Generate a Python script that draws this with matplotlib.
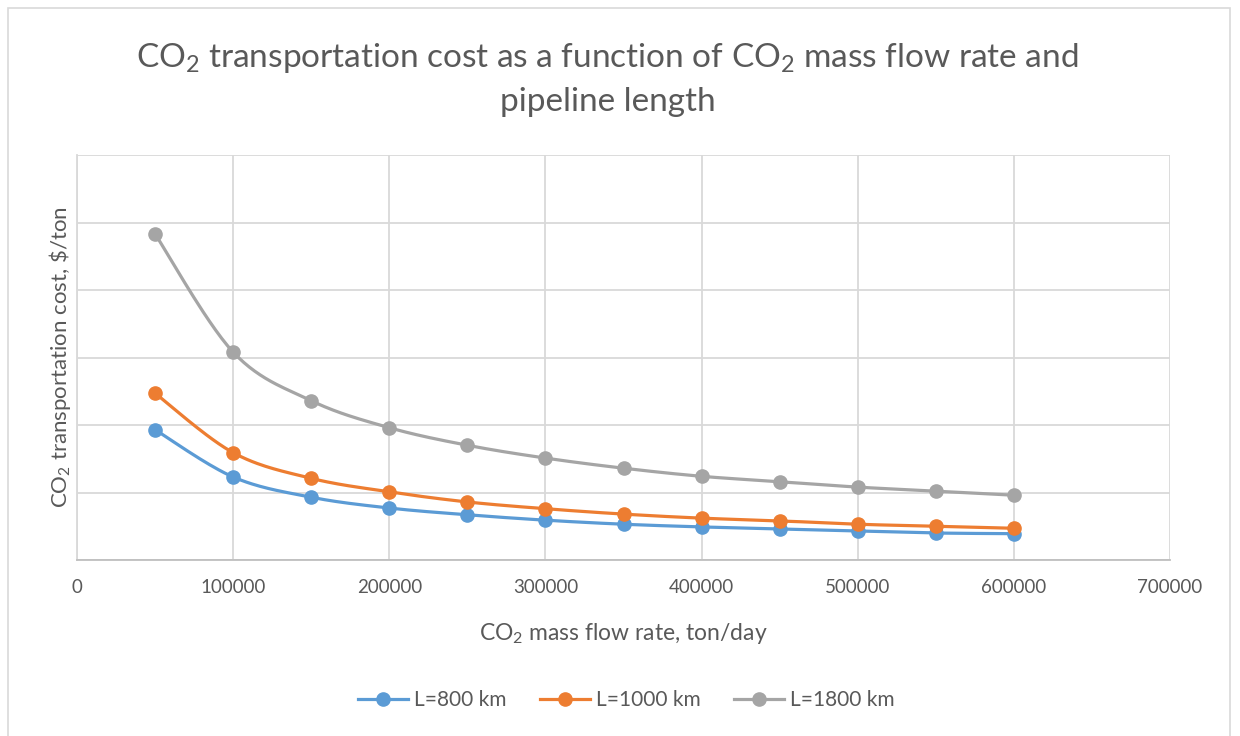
import numpy as np
import matplotlib.pyplot as plt
from matplotlib.lines import Line2D

plt.rcParams['font.family'] = ['Lato', 'DejaVu Sans']
plt.rcParams['mathtext.fontset'] = 'custom'
plt.rcParams['mathtext.rm'] = 'Lato'
plt.rcParams['mathtext.it'] = 'Lato:italic'

flow = [50000, 100000, 150000, 200000, 250000, 300000,
        350000, 400000, 450000, 500000, 550000, 600000]
cost_800 = [19.3, 12.3, 9.3, 7.7, 6.7, 5.9, 5.3, 4.9, 4.6, 4.3, 4.0, 3.9]
cost_1000 = [24.7, 15.9, 12.1, 10.1, 8.6, 7.6, 6.8, 6.2, 5.8, 5.3, 5.0, 4.7]
cost_1800 = [48.3, 30.8, 23.6, 19.6, 17.0, 15.1, 13.6, 12.4, 11.6, 10.8, 10.2, 9.6]

series = [("L=800 km", cost_800, "#5B9BD5"),
          ("L=1000 km", cost_1000, "#ED7D31"),
          ("L=1800 km", cost_1800, "#A5A5A5")]

TXT = "#595959"
GRID = "#D9D9D9"


def smooth(x, y, n=30):
    # catmull-rom style bezier between points, like spreadsheet smoothed lines
    p = np.column_stack([x, y]).astype(float)
    out = [p[0]]
    t = np.linspace(0, 1, n)[1:]
    for i in range(len(p) - 1):
        p0 = p[i - 1] if i > 0 else p[i]
        p1, p2 = p[i], p[i + 1]
        p3 = p[i + 2] if i + 2 < len(p) else p[i + 1]
        c1 = p1 + (p2 - p0) / 6
        c2 = p2 - (p3 - p1) / 6
        for tt in t:
            b = ((1 - tt) ** 3 * p1 + 3 * (1 - tt) ** 2 * tt * c1
                 + 3 * (1 - tt) * tt ** 2 * c2 + tt ** 3 * p2)
            out.append(b)
    out = np.array(out)
    return out[:, 0], out[:, 1]


fig = plt.figure(figsize=(12.4, 7.36), dpi=100)
ax = fig.add_axes([77 / 1240, 176 / 736, 1093 / 1240, 405 / 736])

# light frame round the whole chart
fig.patches.append(plt.Rectangle((8 / 1240, -0.01), 1222 / 1240, 1 - 8 / 736 + 0.01,
                                 transform=fig.transFigure, fill=False,
                                 edgecolor=GRID, linewidth=1.2))

handles = []
for label, vals, col in series:
    sx, sy = smooth(flow, vals)
    ax.plot(sx, sy, color=col, linewidth=2.3, solid_capstyle='round', zorder=3)
    ax.plot(flow, vals, 'o', color=col, markersize=9.5, zorder=4)
    handles.append(Line2D([], [], color=col, linewidth=2.3, marker='o',
                          markersize=9.5, label=label))

ax.set_xlim(0, 700000)
ax.set_ylim(0, 60)
ax.set_xticks(np.arange(0, 700001, 100000))
ax.set_yticks(np.arange(0, 61, 10))
ax.set_yticklabels([])
ax.grid(True, color=GRID, linewidth=1.3)
ax.set_axisbelow(True)
for s in ['top', 'right']:
    ax.spines[s].set_visible(False)
ax.spines['left'].set_color(GRID)
ax.spines['left'].set_linewidth(1.3)
ax.spines['bottom'].set_color('#BFBFBF')
ax.spines['bottom'].set_linewidth(1.3)
ax.tick_params(length=0, labelsize=13.5, labelcolor=TXT, pad=14)

ax.set_xlabel("CO$_2$ mass flow rate, ton/day", fontsize=16.5, color=TXT, labelpad=18)
ax.set_ylabel("CO$_2$ transportation cost, \\$/ton", fontsize=16, color=TXT,
              va='center')
ax.yaxis.set_label_coords(-17 / 1093, 0.5)

fig.text(0.49, 1 - 58 / 736, "CO$_2$ transportation cost as a function of CO$_2$ mass flow rate and",
         ha='center', va='center', fontsize=24, color=TXT)
fig.text(0.49, 1 - 102 / 736, "pipeline length",
         ha='center', va='center', fontsize=24, color=TXT)

fig.legend(handles=handles, loc='center', bbox_to_anchor=(0.505, 1 - 700 / 736),
           ncol=3, frameon=False, fontsize=15, labelcolor=TXT,
           handlelength=2.4, handletextpad=0.3, columnspacing=1.6)

fig.savefig("out.png", dpi=100)
